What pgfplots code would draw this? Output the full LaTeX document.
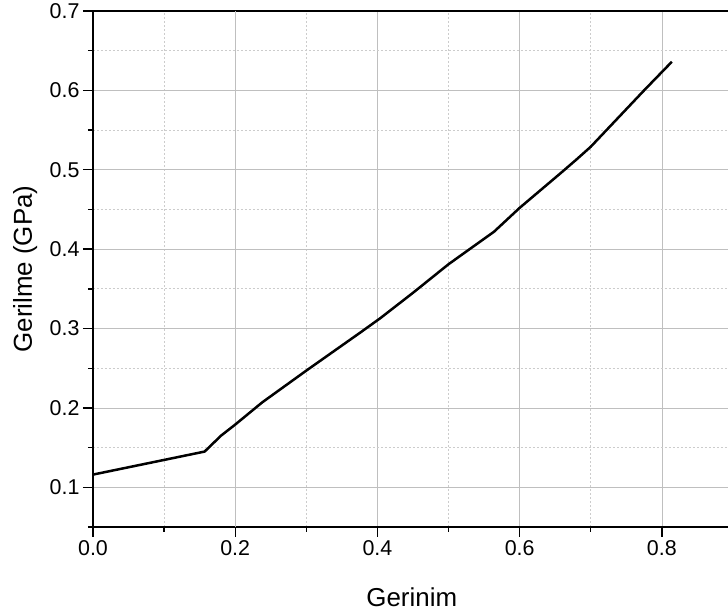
\documentclass[border=0pt]{standalone}
\usepackage{pgfplots}
\pgfplotsset{compat=1.18}
\usepackage{fontspec}
\setmainfont{Liberation Sans}
\begin{document}
\begin{tikzpicture}
\begin{axis}[
  name=ax,
  scale only axis,
  width=635bp, height=516bp,
  xmin=0, xmax=0.893, ymin=0.05, ymax=0.7,
  axis x line=box, axis y line=left,
  axis line style={-, line width=1.6bp, black},
  xtick={0,0.2,0.4,0.6,0.8},
  ytick={0.1,0.2,0.3,0.4,0.5,0.6,0.7},
  minor xtick={0.1,0.3,0.5,0.7},
  minor ytick={0.05,0.15,0.25,0.35,0.45,0.55,0.65},
  xtick pos=bottom, ytick pos=left,
  tick align=outside,
  major tick length=10bp, minor tick length=5bp,
  every tick/.style={black, line width=1.4bp},
  xticklabel style={/pgf/number format/fixed,/pgf/number format/fixed zerofill,/pgf/number format/precision=1},
  yticklabel style={/pgf/number format/fixed,/pgf/number format/fixed zerofill,/pgf/number format/precision=1},
  /pgf/number format/assume math mode=true,
  tick label style={font=\fontsize{21.5}{25}\selectfont},
  label style={font=\fontsize{26}{30}\selectfont},
  grid=both,
  major grid style={gray!50, line width=0.7bp},
  minor grid style={gray!40, line width=0.7bp, dash pattern=on 2bp off 2bp},
  extra x ticks={0.2},
  extra x tick labels={},
  extra x tick style={grid style={gray!85, line width=0.8bp}, major tick length=0pt},
  xlabel={Gerinim},
  ylabel={Gerilme (GPa)},
  xlabel style={at={(axis description cs:0.502,-0.136)}, anchor=center},
  ylabel style={at={(axis description cs:-0.107,0.5)}, anchor=center, rotate=0},
  clip=false,
]
\addplot[black, line width=2.5bp] coordinates {
  (0,0.116) (0.157,0.145) (0.18,0.165) (0.2,0.179) (0.238,0.207)
  (0.3,0.247) (0.376,0.295) (0.404,0.313) (0.45,0.345) (0.5,0.381)
  (0.564,0.422) (0.6,0.452) (0.658,0.496) (0.68,0.513) (0.7,0.529)
  (0.775,0.600) (0.814,0.636)
};
\end{axis}
\pgfresetboundingbox
\useasboundingbox ([xshift=-93bp,yshift=-88bp]ax.south west) rectangle ([yshift=11bp]ax.north east);
\end{tikzpicture}
\end{document}
